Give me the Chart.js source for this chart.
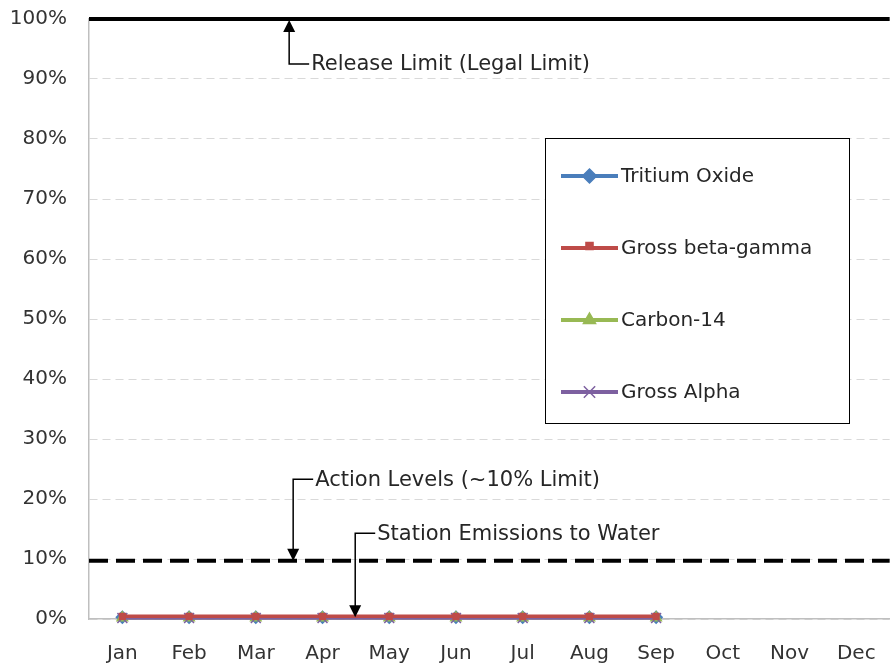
<!DOCTYPE html>
<html>
<head>
<meta charset="utf-8">
<script src="https://cdn.jsdelivr.net/npm/chart.js@4"></script>
<style>
  html, body { margin: 0; padding: 0; background: #fff; overflow: hidden; }
  #wrap { width: 899px; height: 664px; }
</style>
</head>
<body>
<div id="wrap"><canvas id="myChart" width="899" height="664"></canvas></div>
<script>
const months = ['Jan', 'Feb', 'Mar', 'Apr', 'May', 'Jun', 'Jul', 'Aug', 'Sep', 'Oct', 'Nov', 'Dec'];
const tritium = [0.3, 0.3, 0.3, 0.3, 0.3, 0.3, 0.3, 0.3, 0.3];
const betaGamma = [0.45, 0.45, 0.45, 0.45, 0.45, 0.45, 0.45, 0.45, 0.45];
const carbon14 = [0.2, 0.2, 0.2, 0.2, 0.2, 0.2, 0.2, 0.2, 0.2];
const alpha = [0.15, 0.15, 0.15, 0.15, 0.15, 0.15, 0.15, 0.15, 0.15];
const releaseLimit = 100;
const actionLevel = 9.7;
const yTicks = [0, 10, 20, 30, 40, 50, 60, 70, 80, 90, 100];

const FONT = '"DejaVu Sans", sans-serif';

function arrowHead(ctx, x, y, dir) {
    ctx.beginPath();
    ctx.moveTo(x, y);
    ctx.lineTo(x - 6, y - 12 * dir);
    ctx.lineTo(x + 6, y - 12 * dir);
    ctx.closePath();
    ctx.fill();
}

const extras = {
    id: 'extras',
    beforeDatasetsDraw(chart) {
        const ctx = chart.ctx;
        const a = chart.chartArea;
        const y = chart.scales.y;
        ctx.save();
        ctx.strokeStyle = '#000';
        ctx.lineWidth = 4;
        let py = y.getPixelForValue(releaseLimit);
        ctx.beginPath();
        ctx.moveTo(a.left, py);
        ctx.lineTo(a.right, py);
        ctx.stroke();
        py = y.getPixelForValue(actionLevel);
        ctx.setLineDash([19, 8]);
        ctx.beginPath();
        ctx.moveTo(a.left, py);
        ctx.lineTo(a.right, py);
        ctx.stroke();
        ctx.restore();
    },
    afterDatasetsDraw(chart) {
        const ctx = chart.ctx;
        const x = chart.scales.x;
        const y = chart.scales.y;
        ctx.save();
        ctx.strokeStyle = '#000';
        ctx.fillStyle = '#000';
        ctx.lineWidth = 1.5;
        ctx.font = '21px ' + FONT;
        ctx.textBaseline = 'middle';

        const notes = [
            { text: 'Release Limit (Legal Limit)', at: 2.5, from: 92.5, to: releaseLimit, up: true },
            { text: 'Action Levels (~10% Limit)', at: 2.56, from: 23.3, to: actionLevel, up: false },
            { text: 'Station Emissions to Water', at: 3.49, from: 14.3, to: 0.3, up: false }
        ];
        notes.forEach(n => {
            const px = x.getPixelForValue(n.at);
            const y0 = y.getPixelForValue(n.from);
            let y1 = y.getPixelForValue(n.to);
            ctx.beginPath();
            ctx.moveTo(px + 20, y0);
            ctx.lineTo(px, y0);
            ctx.lineTo(px, n.up ? y1 + 12 : y1 - 10);
            ctx.stroke();
            if (n.up) arrowHead(ctx, px, y1 + 1, -1);
            else arrowHead(ctx, px, y1, 1);
            ctx.fillStyle = '#262626';
            ctx.fillText(n.text, px + 22, y0 + 1);
            ctx.fillStyle = '#000';
        });

        // legend box
        const bx = 545.5, by = 138.5, bw = 304, bh = 285;
        ctx.fillStyle = '#fff';
        ctx.fillRect(bx, by, bw, bh);
        ctx.strokeStyle = '#000';
        ctx.lineWidth = 1;
        ctx.strokeRect(bx, by, bw, bh);
        const rows = [176, 248, 320, 392];
        chart.data.datasets.forEach((ds, i) => {
            const ly = rows[i];
            ctx.strokeStyle = ds.borderColor;
            ctx.fillStyle = ds.borderColor;
            ctx.lineWidth = 4;
            ctx.beginPath();
            ctx.moveTo(561, ly);
            ctx.lineTo(618, ly);
            ctx.stroke();
            ctx.lineWidth = 1.5;
            Chart.helpers.drawPoint(ctx, {
                pointStyle: ds.pointStyle,
                radius: ds.pointRadius + 1,
                rotation: 0,
                borderWidth: 1.5
            }, 589.5, ds.pointStyle === 'rect' ? ly - 2 : ly);
            ctx.fillStyle = '#262626';
            ctx.font = '20px ' + FONT;
            ctx.fillText(ds.label, 621, ly + 1);
        });
        ctx.restore();
    }
};

function series(label, data, color, style, r, order) {
    return {
        label: label,
        data: data,
        order: order,
        clip: false,
        borderColor: color,
        backgroundColor: color,
        pointBackgroundColor: color,
        pointBorderColor: color,
        pointStyle: style,
        pointRadius: r,
        pointBorderWidth: 1.5,
        borderWidth: 3.5,
        tension: 0
    };
}

new Chart(document.getElementById('myChart'), {
    type: 'line',
    data: {
        labels: months,
        datasets: [
            series('Tritium Oxide', tritium, '#4a7ebb', 'rectRot', 6, 3),
            series('Gross beta-gamma', betaGamma, '#be4b48', 'rect', 4, 0),
            series('Carbon-14', carbon14, '#98b954', 'triangle', 6, 2),
            series('Gross Alpha', alpha, '#7d60a0', 'crossRot', 7, 1)
        ]
    },
    options: {
        responsive: false,
        animation: false,
        layout: { padding: { top: 19, right: 0, left: 0, bottom: 0 } },
        plugins: { legend: { display: false }, tooltip: { enabled: false } },
        scales: {
            x: {
                offset: true,
                grid: { display: false, drawTicks: false, offset: true },
                border: { color: '#bfbfbf', width: 1.5 },
                ticks: { color: '#333', font: { family: FONT, size: 20 }, padding: 23, maxRotation: 0 },
                afterFit(s) { s.height = 45; }
            },
            y: {
                min: 0,
                max: 100,
                afterBuildTicks(s) { s.ticks = yTicks.map(v => ({ value: v })); },
                grid: { color: '#d9d9d9', drawTicks: false },
                border: { color: '#bfbfbf', width: 1.5, dash: [8, 5] },
                ticks: {
                    color: '#333',
                    font: { family: FONT, size: 20 },
                    padding: 22,
                    callback: v => v + '%'
                },
                afterFit(s) { s.width = 89; s.paddingTop = 0; s.paddingBottom = 0; }
            }
        }
    },
    plugins: [extras]
});
</script>
</body>
</html>
